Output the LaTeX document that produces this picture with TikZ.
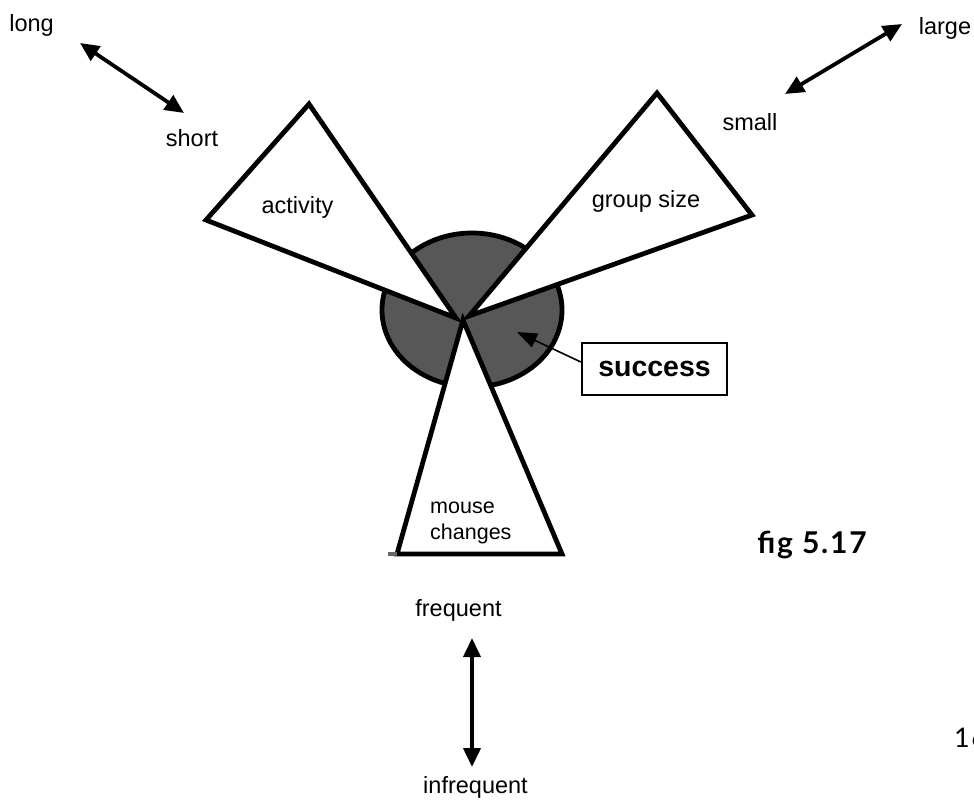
\documentclass[tikz,border=0pt]{standalone}
\usepackage{fontspec}
\setmainfont{Liberation Sans}
\newfontfamily\figfont{Lato}[LetterSpace=6]
\usetikzlibrary{arrows.meta}

\begin{document}
\begin{tikzpicture}[x=1pt,y=-1pt,
  lbl/.style={anchor=base, inner sep=0pt, font=\fontsize{23.5}{28}\selectfont},
  smalllbl/.style={anchor=base west, inner sep=0pt, font=\fontsize{21.5}{26}\selectfont},
  wedge/.style={draw=black, line width=4.8pt, fill=white, line join=miter},
  hub/.style={draw=black, line width=4.8pt, fill=black!66},
  scalearrow/.style={line width=3.8pt,
    {Triangle[length=19pt,width=17pt]}-{Triangle[length=19pt,width=17pt]}},
  pointer/.style={line width=1.6pt, -{Triangle[length=20pt,width=15pt]}},
  tag/.style={draw=black, line width=2.3pt, fill=white, inner sep=0pt,
    minimum width=145pt, minimum height=52pt,
    font=\fontsize{28.5}{34}\selectfont\bfseries},
]
\useasboundingbox (0,0) rectangle (974,808);

% central disc
\draw[hub] (472,310) ellipse [x radius=90, y radius=77];

% the three wedges
\coordinate (actApex) at (456,318);
\coordinate (actTop) at (309,104);
\coordinate (actLeft) at (206,220);
\coordinate (grpApex) at (469,316);
\coordinate (grpTop) at (657,93);
\coordinate (grpRight) at (752,215);
\coordinate (mouApex) at (463,320);
\coordinate (mouLeft) at (397,554);
\coordinate (mouRight) at (562,554);
\coordinate (mouTail) at (388,554);

\draw[wedge] (actApex) -- (actTop) -- (actLeft) -- cycle;
\draw[wedge] (grpApex) -- (grpTop) -- (grpRight) -- cycle;
\draw[wedge] (mouApex) -- (mouLeft) -- (mouRight) -- cycle;
\draw[line width=3.5pt, black!60] (mouTail) -- (mouLeft);

% wedge labels
\node[lbl] (activity) at (297.5,213) {activity};
\node[lbl] (group) at (646,207) {group size};
\node[smalllbl] (mouse) at (430,513) {mouse};
\node[smalllbl] (changes) at (430,539.5) {changes};

% success callout
\node[tag] (succ) at (654.5,369) {success};
\coordinate (ptr) at (517,332);
\draw[pointer] ([yshift=7pt]succ.west) -- (ptr);

% scale ends
\node[lbl] (long) at (31.5,31.5) {long};
\node[lbl] (short) at (192,146) {short};
\coordinate (longEnd) at (80,43);
\coordinate (shortEnd) at (184,113);
\draw[scalearrow] (longEnd) -- (shortEnd);

\node[lbl] (large) at (945,35) {large};
\node[lbl] (small) at (750,130) {small};
\coordinate (largeEnd) at (902,24);
\coordinate (smallEnd) at (785,94);
\draw[scalearrow] (largeEnd) -- (smallEnd);

\node[lbl] (freq) at (458.5,616) {frequent};
\node[lbl] (infreq) at (475.5,793) {infrequent};
\coordinate (freqEnd) at (472,638);
\coordinate (infreqEnd) at (472,767);
\draw[scalearrow] (freqEnd) -- (infreqEnd);

% caption and page number
\node[anchor=center, inner sep=0pt, font=\figfont\bfseries\fontsize{30}{34}\selectfont] (fig) at (812,545) {fig 5.17};
\node[anchor=base west, inner sep=0pt, font=\figfont\fontsize{27}{32}\selectfont] (page) at (954,747) {16};
\end{tikzpicture}
\end{document}
